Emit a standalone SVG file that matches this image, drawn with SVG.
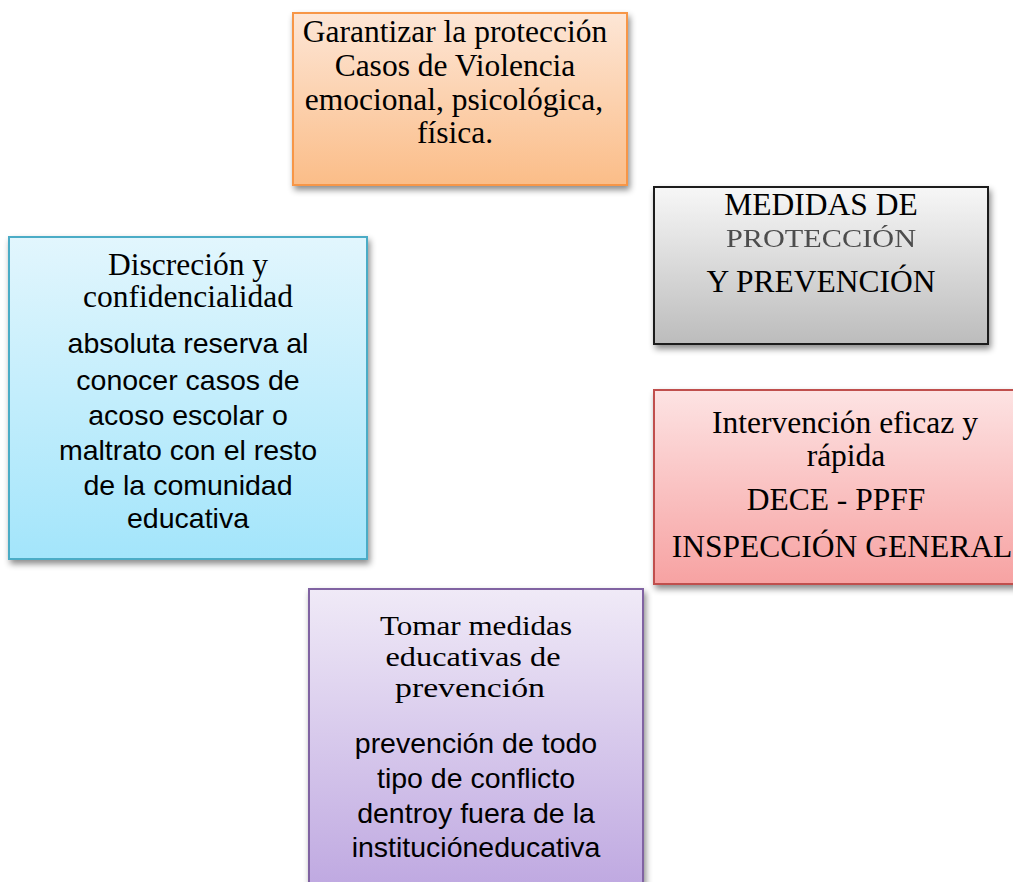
<svg xmlns="http://www.w3.org/2000/svg" width="1013" height="882" viewBox="0 0 1013 882">
<defs>
<filter id="sh" x="-10%" y="-10%" width="130%" height="130%">
<feDropShadow dx="2" dy="4" stdDeviation="3" flood-color="#000" flood-opacity="0.45"/>
</filter>
<filter id="soft"><feGaussianBlur stdDeviation="0.5"/></filter>
<linearGradient id="gOr" x1="0" y1="0" x2="0" y2="1"><stop offset="0" stop-color="#fde6d6"/><stop offset="1" stop-color="#fbbd88"/></linearGradient>
<linearGradient id="gGr" x1="0" y1="0" x2="0" y2="1"><stop offset="0" stop-color="#f7f7f7"/><stop offset="1" stop-color="#bcbcbc"/></linearGradient>
<linearGradient id="gRd" x1="0" y1="0" x2="0" y2="1"><stop offset="0" stop-color="#fde3e3"/><stop offset="1" stop-color="#f7a2a2"/></linearGradient>
<linearGradient id="gBl" x1="0" y1="0" x2="0" y2="1"><stop offset="0" stop-color="#e2f6fd"/><stop offset="1" stop-color="#a3e5fb"/></linearGradient>
<linearGradient id="gPu" x1="0" y1="0" x2="0" y2="1"><stop offset="0" stop-color="#f0eaf7"/><stop offset="1" stop-color="#bda6e0"/></linearGradient>
</defs>
<style>
.box{stroke-width:2;filter:url(#sh)}
.ser{font-family:"Liberation Serif","Times New Roman",serif;font-size:31.5px;fill:#000;text-anchor:middle}
.ser2{font-family:"Liberation Serif","Times New Roman",serif;font-size:28px;fill:#000;text-anchor:middle}
.san{font-family:"Liberation Sans",Arial,sans-serif;font-size:28.5px;fill:#000;text-anchor:middle}
</style>
<g id="node-garantizar">
<rect class="box" x="293" y="13" width="334" height="172" fill="url(#gOr)" stroke="#f79646"/>
<text class="ser"><tspan x="455" y="42">Garantizar la protección</tspan><tspan x="455" y="76">Casos de Violencia</tspan><tspan x="454" y="110">emocional, psicológica,</tspan><tspan x="455" y="143">física.</tspan></text>
</g>
<g id="node-medidas">
<rect class="box" x="654" y="187" width="334" height="157" fill="url(#gGr)" stroke="#1e1e1e"/>
<text class="ser" x="821" y="215">MEDIDAS DE</text>
<text class="ser" x="821" y="247" textLength="190" lengthAdjust="spacingAndGlyphs" style="font-size:26px;fill:#4d4d4d" filter="url(#soft)">PROTECCIÓN</text>
<text class="ser" x="821" y="292">Y PREVENCIÓN</text>
</g>
<g id="node-intervencion">
<rect class="box" x="654" y="390" width="378" height="194" fill="url(#gRd)" stroke="#c0504d"/>
<text class="ser"><tspan x="845" y="433">Intervención eficaz y</tspan><tspan x="846" y="466">rápida</tspan></text>
<text class="ser" x="836" y="510">DECE - PPFF</text>
<text class="ser" x="842" y="557">INSPECCIÓN GENERAL</text>
</g>
<g id="node-discrecion">
<rect class="box" x="9" y="237" width="358" height="322" fill="url(#gBl)" stroke="#4bacc6"/>
<text class="ser"><tspan x="188" y="275">Discreción y</tspan><tspan x="188" y="307">confidencialidad</tspan></text>
<text class="san" x="188" y="353">absoluta reserva al</text>
<text class="san" x="188" y="390">conocer casos de</text>
<text class="san" x="188" y="425">acoso escolar o</text>
<text class="san" x="188" y="460">maltrato con el resto</text>
<text class="san" x="188" y="495">de la comunidad</text>
<text class="san" x="188" y="528">educativa</text>
</g>
<g id="node-tomar">
<rect class="box" x="309" y="589" width="334" height="310" fill="url(#gPu)" stroke="#8064a2"/>
<text class="ser2" x="476" y="635" textLength="192" lengthAdjust="spacingAndGlyphs">Tomar medidas</text>
<text class="ser2" x="473" y="666" textLength="175" lengthAdjust="spacingAndGlyphs">educativas de</text>
<text class="ser2" x="470" y="697" textLength="150" lengthAdjust="spacingAndGlyphs">prevención</text>
<text class="san" x="476" y="753">prevención de todo</text>
<text class="san" x="476" y="788">tipo de conflicto</text>
<text class="san" x="476" y="823">dentroy fuera de la</text>
<text class="san" x="476" y="857">institucióneducativa</text>
</g>
<g id="connectors"></g>
</svg>
